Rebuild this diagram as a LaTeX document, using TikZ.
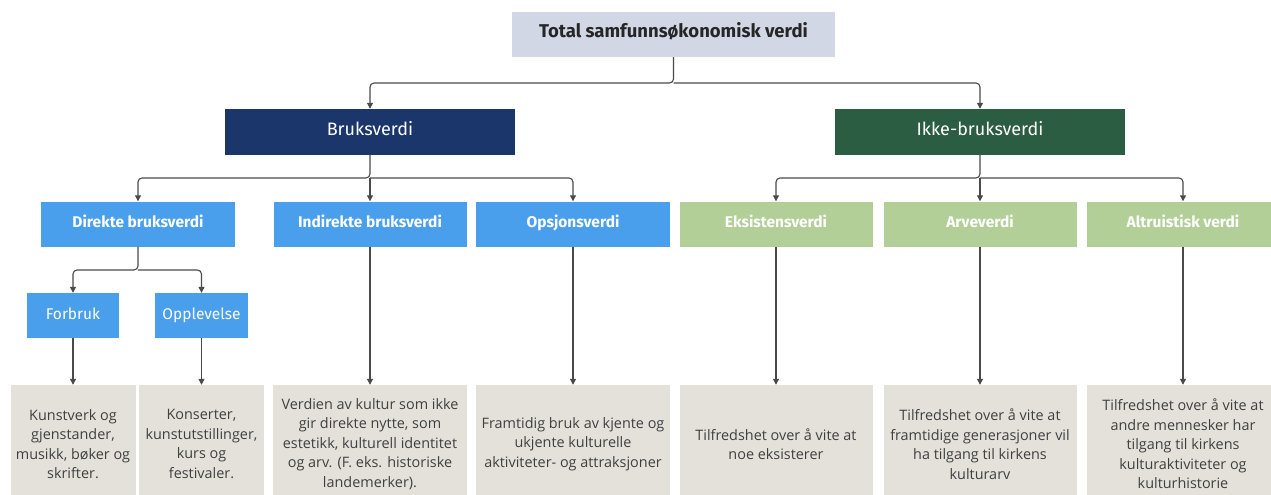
\documentclass[tikz,border=0pt]{standalone}
\usepackage{fontspec}
\setmainfont{Open Sans}
\newfontfamily\fira{Fira Sans}
\usetikzlibrary{arrows.meta}
\definecolor{topfill}{HTML}{D1D7E4}
\definecolor{navy}{HTML}{1B366B}
\definecolor{dgreen}{HTML}{2A5D41}
\definecolor{lblue}{HTML}{4A9FEC}
\definecolor{lgreen}{HTML}{B3CF98}
\definecolor{greyfill}{HTML}{E3E1DA}
\definecolor{linecol}{HTML}{4A4A4A}
\definecolor{txtgrey}{HTML}{404040}
\tikzset{
  box/.style={draw=none, inner sep=0pt, align=center},
  oneline/.style={text height=0.8em, text depth=0.1em},
  topbox/.style={box, oneline, fill=topfill, minimum width=323pt, minimum height=45pt,
    font=\fira\bfseries\fontsize{18.5}{22}\selectfont, text=black!85},
  mainbox/.style={box, oneline, minimum height=46pt, minimum width=290pt, text=white,
    font=\fira\fontsize{18}{22}\selectfont},
  subbox/.style={box, oneline, minimum height=45pt, minimum width=193pt, text=white,
    font=\fira\bfseries\fontsize{15.5}{19}\selectfont},
  smallbox/.style={box, oneline, fill=lblue, minimum height=45pt, minimum width=93pt, text=white,
    font=\fira\fontsize{15.5}{19}\selectfont},
  descbox/.style={box, fill=greyfill, minimum height=118pt, minimum width=193pt, text=txtgrey,
    font=\fontsize{14.4}{19.5}\selectfont},
  conn/.style={draw=linecol, line width=1.1pt, rounded corners=4pt,
    -{Triangle[length=6pt,width=6pt]}}
}
\begin{document}
\begin{tikzpicture}[x=1pt,y=-1pt]
\useasboundingbox (0,0) rectangle (1271,495);
\fill[white] (0,0) rectangle (1271,495);
\clip (0,0) rectangle (1271,495);
% level 0
\node[topbox] (top) at (673.5,34.5) {Total samfunnsøkonomisk verdi};
% level 1
\node[mainbox, fill=navy] (bruk) at (370,132) {Bruksverdi};
\node[mainbox, fill=dgreen] (ikke) at (980,132) {Ikke-bruksverdi};
% level 2
\node[subbox, fill=lblue, minimum width=194pt] (dir) at (138,224) {Direkte bruksverdi};
\node[subbox, fill=lblue, minimum width=193pt] (ind) at (370,224) {Indirekte bruksverdi};
\node[subbox, fill=lblue, minimum width=194pt] (ops) at (573,224) {Opsjonsverdi};
\node[subbox, fill=lgreen] (eks) at (776,224) {Eksistensverdi};
\node[subbox, fill=lgreen] (arv) at (980,224) {Arveverdi};
\node[subbox, fill=lgreen] (alt) at (1183,224) {Altruistisk verdi};
% level 3
\node[smallbox, minimum width=92pt] (forb) at (73,315.5) {Forbruk};
\node[smallbox] (oppl) at (201.5,315.5) {Opplevelse};
% descriptions
\node[descbox, minimum width=125pt] (g1) at (73,444) {Kunstverk og\\gjenstander,\\musikk, bøker og\\skrifter.};
\node[descbox, minimum width=125pt] (g2) at (201.5,444) {Konserter,\\kunstutstillinger,\\kurs og\\festivaler.};
\node[descbox, minimum width=194pt] (g3) at (370,444) {Verdien av kultur som ikke\\gir direkte nytte, som\\estetikk, kulturell identitet\\og arv. (F. eks. historiske\\landemerker).};
\node[descbox, minimum width=194pt] (g4) at (573,444) {Framtidig bruk av kjente og\\ukjente kulturelle\\aktiviteter- og attraksjoner};
\node[descbox] (g5) at (776,444) {Tilfredshet over å vite at\\noe eksisterer};
\node[descbox] (g6) at (980,444) {Tilfredshet over å vite at\\framtidige generasjoner vil\\ha tilgang til kirkens\\kulturarv};
\node[descbox] (g7) at (1183,444) {Tilfredshet over å vite at\\andre mennesker har\\tilgang til kirkens\\kulturaktiviteter og\\kulturhistorie};
% junctions
\coordinate (j0) at (673.5,83);
\coordinate (j1) at (370,178);
\coordinate (j2) at (980,178);
\coordinate (j3) at (138,270);
% connectors
\draw[conn] (top.south) -- (j0) -| (bruk.north);
\draw[conn] (j0) -| (ikke.north);
\draw[conn] (bruk.south) -- (j1) -| (dir.north);
\draw[conn] (j1) -- (ind.north);
\draw[conn] (j1) -| (ops.north);
\draw[conn] (ikke.south) -- (j2) -| (eks.north);
\draw[conn] (j2) -- (arv.north);
\draw[conn] (j2) -| (alt.north);
\draw[conn] (dir.south) -- (j3) -| (forb.north);
\draw[conn] (j3) -| (oppl.north);
\draw[conn] (forb.south) -- (g1.north);
\draw[conn] (oppl.south) -- (g2.north);
\draw[conn] (ind.south) -- (g3.north);
\draw[conn] (ops.south) -- (g4.north);
\draw[conn] (eks.south) -- (g5.north);
\draw[conn] (arv.south) -- (g6.north);
\draw[conn] (alt.south) -- (g7.north);
\end{tikzpicture}
\end{document}
